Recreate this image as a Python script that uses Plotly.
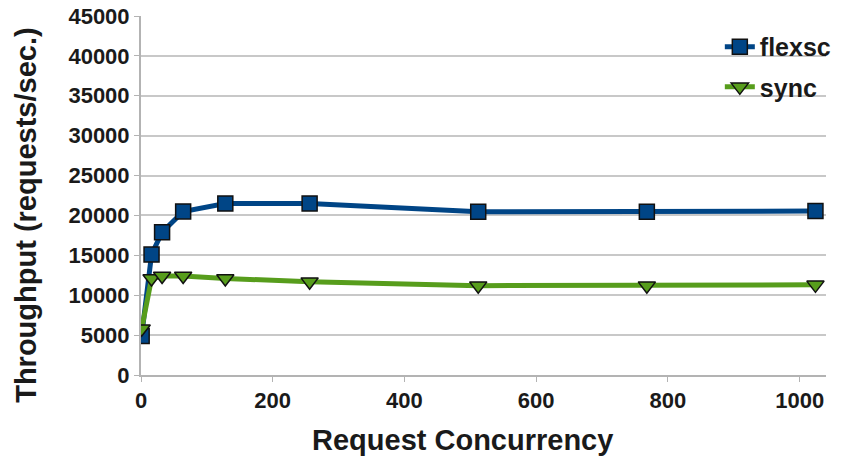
import plotly.graph_objects as go

concurrency = [1, 16, 32, 64, 128, 256, 512, 768, 1024]
flexsc = [4900, 15100, 17900, 20500, 21500, 21500, 20450, 20450, 20550]
sync = [5800, 12100, 12400, 12400, 12100, 11700, 11200, 11200, 11300]
y_ticks = list(range(0, 45001, 5000))
y_labels = [str(v) for v in y_ticks]
x_ticks = [0, 200, 400, 600, 800, 1000]
x_title = "Request Concurrency"
y_title = "Throughput (requests/sec.)"

fig = go.Figure()
fig.add_trace(go.Scatter(
    x=concurrency, y=flexsc, name="flexsc", mode="lines+markers", legend="legend",
    line=dict(color="#004586", width=5),
    marker=dict(symbol="square", size=15, color="#004586", line=dict(color="#111111", width=1.5)),
))
fig.add_trace(go.Scatter(
    x=concurrency, y=sync, name="sync", mode="lines+markers", legend="legend2",
    line=dict(color="#579d1c", width=5),
    marker=dict(symbol="triangle-down", size=15, color="#579d1c", line=dict(color="#111111", width=1.5)),
))

font_family = "Liberation Sans, Arial, sans-serif"
legend_style = dict(xanchor="left", yanchor="top", bgcolor="rgba(0,0,0,0)",
                    font=dict(size=25, family=font_family, weight="bold"), itemwidth=30)
fig.update_layout(
    width=854, height=461,
    margin=dict(l=141, r=28, t=16, b=86),
    paper_bgcolor="white", plot_bgcolor="white",
    font=dict(family=font_family, color="#1a1a1a"),
    showlegend=True,
    legend=dict(x=0.845, y=0.978, **legend_style),
    legend2=dict(x=0.845, y=0.866, **legend_style),
    xaxis=dict(
        range=[0, 1040], tickvals=x_ticks, ticktext=[str(v) for v in x_ticks],
        showgrid=False, showline=True, linecolor="#b3b3b3", linewidth=2,
        ticks="outside", ticklen=5, tickcolor="#b3b3b3", tickwidth=1,
        tickfont=dict(size=22, weight="bold"), automargin=False,
        zeroline=False,
    ),
    yaxis=dict(
        range=[0, 45000], tickvals=y_ticks, ticktext=y_labels,
        showgrid=True, gridcolor="#c8c8c8", gridwidth=2,
        showline=True, linecolor="#b3b3b3", linewidth=2,
        ticks="outside", ticklen=5, tickcolor="#b3b3b3", tickwidth=1,
        tickfont=dict(size=22, weight="bold"), automargin=False,
        zeroline=False,
    ),
    annotations=[
        dict(text=x_title, xref="paper", yref="paper", x=0.469, y=-0.181,
             xanchor="center", yanchor="middle", showarrow=False,
             font=dict(size=29, weight="bold", family=font_family, color="#1a1a1a")),
        dict(text=y_title, xref="paper", yref="paper", x=-0.168, y=0.446,
             xanchor="center", yanchor="middle", showarrow=False, textangle=-90,
             font=dict(size=29, weight="bold", family=font_family, color="#1a1a1a")),
    ],
)

fig.write_html("out.html", config={"displayModeBar": False},
               post_script="document.body.style.margin='0';")
